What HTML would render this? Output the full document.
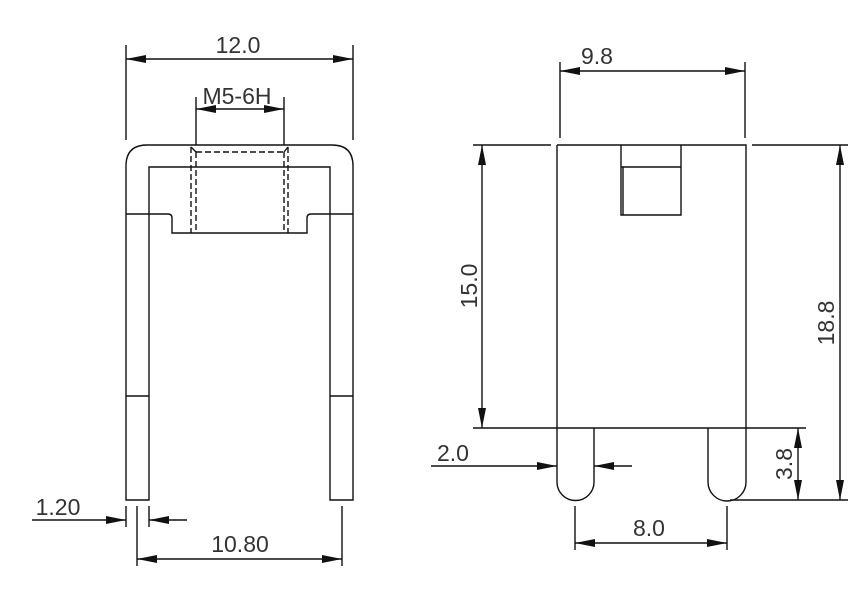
<!DOCTYPE html>
<html><head><style>body{margin:0;background:#fff}svg{display:block}text{font-family:"Liberation Sans",sans-serif;font-size:23px;fill:#333}</style></head><body>
<svg width="859" height="615" viewBox="0 0 859 615" xmlns="http://www.w3.org/2000/svg">
<defs>
<marker id="a" viewBox="0 0 20 8" refX="20" refY="4" markerWidth="20" markerHeight="8" markerUnits="userSpaceOnUse" orient="auto-start-reverse"><path d="M0,0L20,4L0,8z" fill="#111"/></marker>
</defs>
<g stroke="#111" stroke-width="1.4" fill="none">
<path d="M126,500V166Q126,145 147,145H332Q353,145 353,166V500H330V167H149V500Z"/>
<path d="M126,214H168Q172,214 172,218V233H307V218Q307,214 311,214H353"/>
<path d="M126,396H149M330,396H353"/>
<g stroke-dasharray="6,3">
<path d="M191,147V233M196,152V233M284,152V233M288,147V233M196,152H284"/>
</g>
<path d="M191,147L196,152M288,147L284,152"/>
<path d="M126,45V140M353,45V140"/>
<path d="M126,59H353" marker-start="url(#a)" marker-end="url(#a)"/>
<path d="M196,97V145M284,97V145"/>
<path d="M196,109H284" marker-start="url(#a)" marker-end="url(#a)"/>
<path d="M126,506V527M149,506V527M137,506V566"/>
<path d="M32,520H126" marker-end="url(#a)"/>
<path d="M187,520H149" marker-end="url(#a)"/>
<path d="M342,506V566"/>
<path d="M137,559H342" marker-start="url(#a)" marker-end="url(#a)"/>
<path d="M557,145H746V482"/>
<path d="M557,145V482A18.5,18.5 0 0 0 594,482V428"/>
<path d="M708,428V482A18.5,18.5 0 0 0 746,482"/>
<path d="M473,428H806"/>
<path d="M621,145V215H681V145M621,167H681M623,167V215"/>
<path d="M560,62V138M745,62V138"/>
<path d="M560,71H745" marker-start="url(#a)" marker-end="url(#a)"/>
<path d="M473,145H551"/>
<path d="M482,145V428" marker-start="url(#a)" marker-end="url(#a)"/>
<path d="M752,145H848M730,500H848"/>
<path d="M840,145V500" marker-start="url(#a)" marker-end="url(#a)"/>
<path d="M798,428V500" marker-start="url(#a)" marker-end="url(#a)"/>
<path d="M431,466H557" marker-end="url(#a)"/>
<path d="M632,466H594" marker-end="url(#a)"/>
<path d="M575,506V550M727,506V550"/>
<path d="M575,543H727" marker-start="url(#a)" marker-end="url(#a)"/>
</g>
<text x="238" y="53" text-anchor="middle">12.0</text>
<text x="237" y="104" text-anchor="middle">M5-6H</text>
<text x="58" y="515" text-anchor="middle">1.20</text>
<text x="240" y="552" text-anchor="middle">10.80</text>
<text x="597" y="64" text-anchor="middle">9.8</text>
<text x="453" y="461" text-anchor="middle">2.0</text>
<text x="649" y="536" text-anchor="middle">8.0</text>
<text transform="translate(477,286) rotate(-90)" text-anchor="middle">15.0</text>
<text transform="translate(834,323) rotate(-90)" text-anchor="middle">18.8</text>
<text transform="translate(792,464) rotate(-90)" text-anchor="middle">3.8</text>
</svg>
</body></html>
